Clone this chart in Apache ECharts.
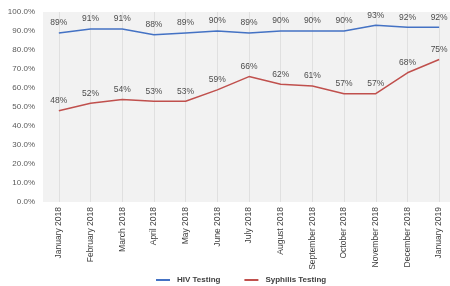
<!DOCTYPE html>
<html>
<head>
<meta charset="utf-8">
<script src="https://cdn.jsdelivr.net/npm/echarts@6/dist/echarts.min.js"></script>
<style>html,body{margin:0;padding:0;background:#fff}#c{width:450px;height:286px}</style>
</head>
<body>
<div id="c"></div>
<script>
var categories = ['January 2018','February 2018','March 2018','April 2018','May 2018','June 2018','July 2018','August 2018','September 2018','October 2018','November 2018','December 2018','January 2019'];
var hivTesting = [89, 91, 91, 88, 89, 90, 89, 90, 90, 90, 93, 92, 92];
var syphilisTesting = [48, 52, 54, 53, 53, 59, 66, 62, 61, 57, 57, 68, 75];
var seriesNames = ['HIV Testing', 'Syphilis Testing'];
var seriesColors = ['#4472C4', '#C0504D'];

var FONT = 'Liberation Sans';
var chart = echarts.init(document.getElementById('c'));
function lineSeries(name, data, color, withGrid) {
  var s = {
    name: name,
    type: 'line',
    data: data,
    color: color,
    symbol: 'circle',
    symbolSize: 1,
    showSymbol: true,
    lineStyle: { color: color, width: 1.5 },
    itemStyle: { color: 'rgba(0,0,0,0)', borderWidth: 0 },
    label: {
      show: true, position: 'top', distance: 5,
      formatter: function (p) { return p.value + '%'; },
      color: '#4d4d4d', fontSize: 8.5, fontFamily: FONT, opacity: 1
    },
    labelLayout: { hideOverlap: false },
    z: 3
  };
  if (withGrid) {
    s.markLine = {
      silent: true, symbol: 'none', animation: false,
      label: { show: false },
      lineStyle: { color: '#e0e0e0', width: 1, type: 'solid', opacity: 1 },
      data: categories.map(function (c) { return { xAxis: c }; }),
      z: 1
    };
  }
  return s;
}
chart.setOption({
  animation: false,
  textStyle: { fontFamily: FONT },
  grid: { left: 43, width: 412, top: 12, bottom: 84, show: true, backgroundColor: '#f2f2f2', borderWidth: 0, outerBoundsMode: 'none', containLabel: false },
  xAxis: {
    type: 'category', data: categories, boundaryGap: true,
    axisLine: { show: false }, axisTick: { show: false },
    splitLine: { show: false },
    axisLabel: { rotate: 90, fontSize: 8.5, color: '#404040', margin: 5, fontFamily: FONT, interval: 0 }
  },
  yAxis: {
    type: 'value', min: 0, max: 100, interval: 10,
    axisLine: { show: false }, axisTick: { show: false },
    splitLine: { show: false },
    axisLabel: { formatter: function (v) { return v.toFixed(1) + '%'; }, fontSize: 8, color: '#595959', margin: 8, fontFamily: FONT }
  },
  legend: {
    data: seriesNames.map(function (n, i) { return { name: n, itemStyle: { color: seriesColors[i], opacity: 1 } }; }),
    left: 151, top: 271, itemWidth: 14, itemHeight: 2, itemGap: 24, icon: 'rect',
    textStyle: { fontSize: 8, color: '#404040', fontWeight: 'bold', fontFamily: FONT, padding: [0, 0, 0, 2] }
  },
  series: [
    lineSeries(seriesNames[0], hivTesting, seriesColors[0], true),
    lineSeries(seriesNames[1], syphilisTesting, seriesColors[1], false)
  ]
});
</script>
</body>
</html>
